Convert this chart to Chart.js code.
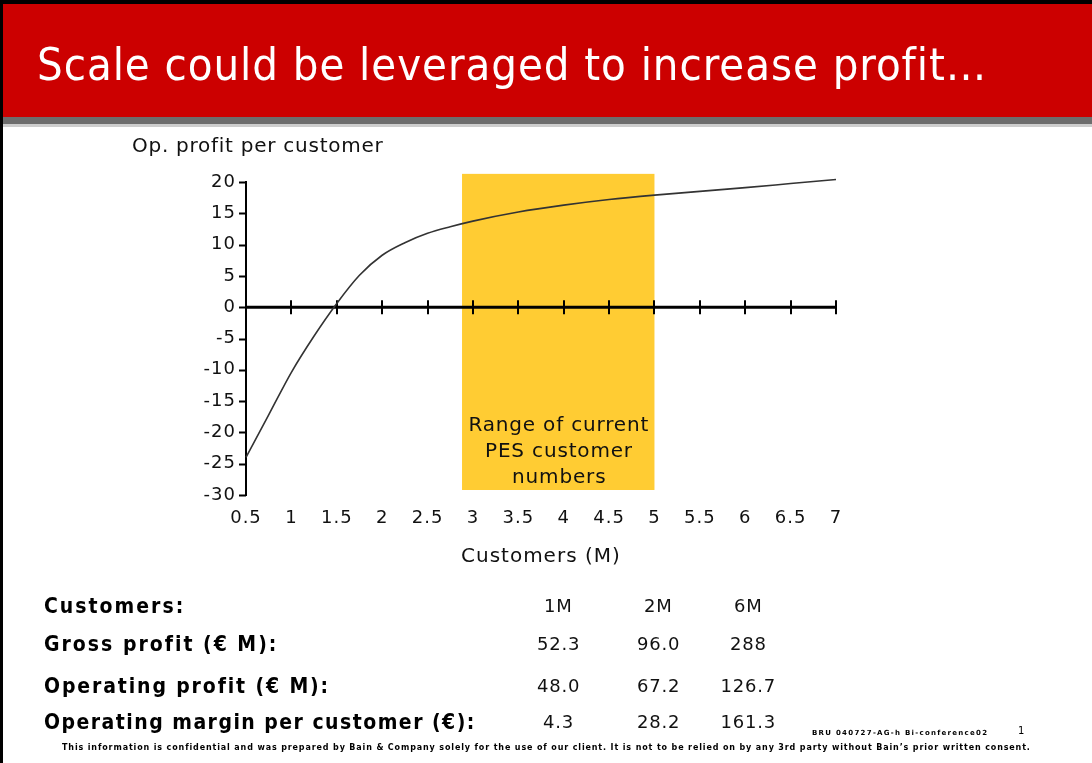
<!DOCTYPE html>
<html>
<head>
<meta charset="utf-8">
<script src="https://cdn.jsdelivr.net/npm/chart.js@4.4.1/dist/chart.umd.min.js"></script>
<style>
  html, body { margin: 0; padding: 0; background: #fff; }
  #page { position: relative; width: 1092px; height: 763px; overflow: hidden; background: #fff; }
  .blk { position: absolute; }
  #chart { position: absolute; left: 0; top: 0; z-index: 1; }
  .t { position: absolute; white-space: nowrap; line-height: 1; z-index: 2; display: inline-block; }
</style>
</head>
<body>
<div id="page">
  <div class="blk" style="left:0;top:0;width:1092px;height:4px;background:#000;"></div>
  <div class="blk" style="left:0;top:0;width:3px;height:763px;background:#000;"></div>
  <div class="blk" style="left:3px;top:4px;width:1089px;height:113px;background:#cc0000;"></div>
  <div class="blk" style="left:3px;top:117px;width:1089px;height:7px;background:#6d6d6d;"></div>
  <div class="blk" style="left:3px;top:124px;width:1089px;height:3px;background:#cdcdcd;"></div>
  <canvas id="chart" width="1092" height="763" style="width:1092px;height:763px;"></canvas>
</div>
<script>
// ---------- data ----------
const customersM = [0.5, 0.75, 1, 1.25, 1.5, 1.75, 2, 2.25, 2.5, 2.75, 3, 3.5, 4, 4.5, 5, 5.5, 6, 6.5, 7];
const opProfitPerCustomer = [-24, -17.2, -10.4, -4.6, 0.6, 5.1, 8.3, 10.3, 11.8, 12.85, 13.75, 15.2, 16.3, 17.2, 17.9, 18.5, 19.1, 19.75, 20.4];
const xTickValues = [0.5, 1, 1.5, 2, 2.5, 3, 3.5, 4, 4.5, 5, 5.5, 6, 6.5, 7];
const xTickLabels = ['0.5', '1', '1.5', '2', '2.5', '3', '3.5', '4', '4.5', '5', '5.5', '6', '6.5', '7'];
const yTickValues = [-30, -25, -20, -15, -10, -5, 0, 5, 10, 15, 20];
const yTickLabels = ['-30', '-25', '-20', '-15', '-10', '-5', '0', '5', '10', '15', '20'];
const rangeX = [2.88, 5.0];       // range of current PES customer numbers (M)
const rangeY = [-29.2, 21.3];     // vertical extent of the highlight box
const rangeText = ['Range of current', 'PES customer', 'numbers'];

const tableHeader = ['1M', '2M', '6M'];
const tableRows = ['Gross profit (€ M):', 'Operating profit (€ M):', 'Operating margin per customer (€):'];
const grossProfit = ['52.3', '96.0', '288'];
const operatingProfit = ['48.0', '67.2', '126.7'];
const marginPerCustomer = ['4.3', '28.2', '161.3'];

// ---------- text helper ----------
const page = document.getElementById('page');
function txt(s, o) {
  const el = document.createElement('span');
  el.className = 't';
  el.textContent = s;
  el.style.fontFamily = o.family || '"DejaVu Sans", Verdana, sans-serif';
  el.style.fontSize = o.fs + 'px';
  el.style.fontWeight = o.weight || 'normal';
  el.style.color = o.color || '#000';
  page.appendChild(el);
  let w = el.offsetWidth;
  if (o.target) {
    const ls = (o.target - w) / s.length;
    el.style.letterSpacing = ls + 'px';
    w = o.target;
  } else if (o.ls) {
    el.style.letterSpacing = o.ls + 'px';
    w = el.offsetWidth - o.ls;
  }
  let left = o.left;
  if (o.center !== undefined) left = o.center - w / 2;
  el.style.left = left + 'px';
  el.style.top = (o.cy - 0.48 * o.fs) + 'px';
  return el;
}

// Title
txt('Scale could be leveraged to increase profit…', {left: 37, cy: 64, fs: 45, target: 950, color: '#fff', family: '"DejaVu Sans Condensed", "DejaVu Sans", sans-serif'});
// axis titles
txt('Op. profit per customer', {left: 132, cy: 145, fs: 20, target: 251, color: '#111'});
txt('Customers (M)', {center: 541, cy: 555, fs: 20, target: 160, color: '#111'});
// box text
const boxW = [181, 148, 94];
const boxCy = [424, 450, 476];
rangeText.forEach((s, i) => txt(s, {center: 559, cy: boxCy[i], fs: 20, target: boxW[i], color: '#111'}));

// table
const colCenters = [558, 658, 748];
const rowCy = [606, 644, 686, 722];
const labelW = [141, 234, 285, 432];
const LBL = '"DejaVu Sans Condensed", "DejaVu Sans", sans-serif';
txt('Customers:', {left: 44, cy: rowCy[0], fs: 21, weight: 'bold', target: labelW[0], family: LBL});
tableRows.forEach((s, i) => txt(s, {left: 44, cy: rowCy[i + 1], fs: 21, weight: 'bold', target: labelW[i + 1], family: LBL}));
[tableHeader, grossProfit, operatingProfit, marginPerCustomer].forEach((row, r) => {
  row.forEach((v, c) => txt(v, {center: colCenters[c], cy: rowCy[r], fs: 18, ls: 0.8, color: '#111'}));
});

// footer
txt('BRU  040727-AG-h Bi-conference02', {left: 812, cy: 733, fs: 7, weight: 'bold', target: 178});
txt('1', {left: 1018, cy: 731, fs: 10, color: '#000'});
txt('This information is confidential and was prepared by Bain & Company solely for the use of our client. It is not to be relied on by any 3rd party without Bain\u2019s prior written consent.',
    {left: 62, cy: 748, fs: 8, weight: 'bold', target: 968});

// ---------- chart ----------
const FONT = '"DejaVu Sans", Verdana, sans-serif';

const rangePlugin = {
  id: 'rangeAndAxes',
  beforeDraw(chart) { chart.ctx.letterSpacing = '1px'; },
  beforeDatasetsDraw(chart) {
    const {ctx, scales: {x, y}} = chart;
    ctx.save();
    ctx.letterSpacing = '0px';
    // highlight box
    const x0 = x.getPixelForValue(rangeX[0]), x1 = x.getPixelForValue(rangeX[1]);
    const y0 = y.getPixelForValue(rangeY[1]), y1 = y.getPixelForValue(rangeY[0]);
    ctx.fillStyle = '#ffcc33';
    ctx.fillRect(x0, y0, x1 - x0, y1 - y0);
    // y axis line + ticks
    ctx.strokeStyle = '#000';
    ctx.lineWidth = 2;
    const ax = x.getPixelForValue(xTickValues[0]);
    ctx.beginPath();
    ctx.moveTo(ax, y.getPixelForValue(yTickValues[yTickValues.length - 1]) - 1);
    ctx.lineTo(ax, y.getPixelForValue(yTickValues[0]) + 1);
    ctx.stroke();
    ctx.beginPath();
    yTickValues.forEach(v => {
      const py = Math.round(y.getPixelForValue(v)) + 0.5;
      ctx.moveTo(ax - 7, py); ctx.lineTo(ax, py);
    });
    ctx.stroke();
    // zero line + crossing ticks
    const zy = y.getPixelForValue(0);
    ctx.lineWidth = 3;
    ctx.beginPath();
    ctx.moveTo(ax, zy); ctx.lineTo(x.getPixelForValue(xTickValues[xTickValues.length - 1]) + 1, zy);
    ctx.stroke();
    ctx.lineWidth = 2;
    ctx.beginPath();
    xTickValues.forEach((v, i) => {
      if (i === 0) return;
      const px = Math.round(x.getPixelForValue(v));
      ctx.moveTo(px, zy - 7); ctx.lineTo(px, zy + 7);
    });
    ctx.stroke();
    ctx.restore();
  },
  afterDraw(chart) { chart.ctx.letterSpacing = '0px'; }
};

new Chart(document.getElementById('chart'), {
  type: 'line',
  data: {
    datasets: [{
      data: customersM.map((c, i) => ({x: c, y: opProfitPerCustomer[i]})),
      borderColor: '#333333',
      borderWidth: 1.6,
      pointRadius: 0,
      fill: false,
      cubicInterpolationMode: 'monotone',
      clip: false
    }]
  },
  options: {
    responsive: false,
    animation: false,
    events: [],
    layout: {padding: {left: 0, right: 256, top: 182, bottom: 228}},
    plugins: {legend: {display: false}, tooltip: {enabled: false}, title: {display: false}},
    scales: {
      x: {
        type: 'linear', min: 0.5, max: 7,
        afterBuildTicks: s => { s.ticks = xTickValues.map(v => ({value: v})); },
        afterFit: s => { s.height = 40; },
        ticks: {
          callback: (v, i) => xTickLabels[i],
          autoSkip: false, maxRotation: 0, minRotation: 0,
          font: {family: FONT, size: 18}, color: '#111', padding: 13
        },
        grid: {display: false, drawTicks: false},
        border: {display: false}
      },
      y: {
        min: -30, max: 20,
        afterBuildTicks: s => { s.ticks = yTickValues.map(v => ({value: v})); },
        afterFit: s => { s.width = 246; },
        ticks: {
          callback: (v, i) => yTickLabels[i],
          autoSkip: false,
          font: {family: FONT, size: 18}, color: '#111', padding: 10
        },
        grid: {display: false, drawTicks: false},
        border: {display: false}
      }
    }
  },
  plugins: [rangePlugin]
});
</script>
</body>
</html>
